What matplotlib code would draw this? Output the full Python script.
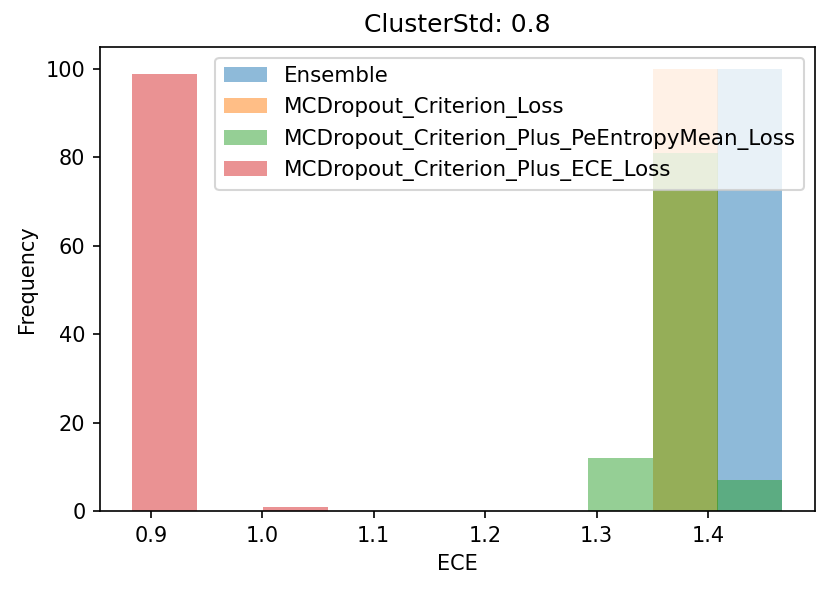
import numpy as np
import matplotlib
matplotlib.use("Agg")
import matplotlib.pyplot as plt

# common bin edges (10 bins between min and max ECE)
ece_min = 0.8836
ece_max = 1.4669
n_bins = 10

labels = [
    "Ensemble",
    "MCDropout_Criterion_Loss",
    "MCDropout_Criterion_Plus_PeEntropyMean_Loss",
    "MCDropout_Criterion_Plus_ECE_Loss",
]

# counts per bin
ensemble_counts = [0, 0, 0, 0, 0, 0, 0, 0, 0, 100]
criterion_counts = [0, 0, 0, 0, 0, 0, 0, 0, 100, 0]
pe_entropy_counts = [0, 0, 0, 0, 0, 0, 0, 12, 81, 7]
ece_loss_counts = [99, 0, 1, 0, 0, 0, 0, 0, 0, 0]

edges = np.linspace(ece_min, ece_max, n_bins + 1)
centers = (edges[:-1] + edges[1:]) / 2

fig = plt.figure(figsize=(830 / 150, 592 / 150), dpi=150)
ax = fig.add_axes([100 / 830, 81 / 592, 715 / 830, 464 / 592])

for counts, lab in zip([ensemble_counts, criterion_counts, pe_entropy_counts, ece_loss_counts], labels):
    ax.hist(centers, bins=edges, weights=counts, alpha=0.5, label=lab)

ax.set_title("ClusterStd: 0.8", pad=7)
ax.set_xlabel("ECE")
ax.set_ylabel("Frequency")
ax.legend(loc="upper right", fontsize=10.25)

plt.savefig("out.png", dpi=150)
